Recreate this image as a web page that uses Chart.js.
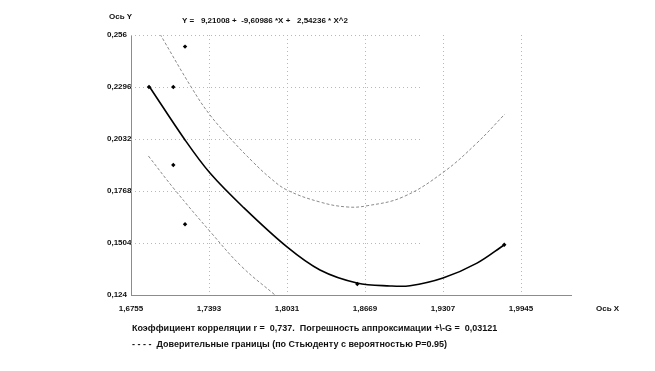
<!DOCTYPE html>
<html>
<head>
<meta charset="utf-8">
<script src="https://cdn.jsdelivr.net/npm/chart.js@4/dist/chart.umd.min.js"></script>
<style>
  html, body { margin: 0; padding: 0; background: #fff; }
  #wrap { width: 655px; height: 371px; position: relative; }
</style>
</head>
<body>
<div id="wrap"><canvas id="grafico"></canvas></div>
<script>
// puntos experimentales
const puntosX = [1.6902, 1.7101, 1.7197, 1.7101, 1.7197, 1.8606, 1.9808];
const puntosY = [0.2296, 0.2296, 0.2501, 0.1900, 0.1599, 0.1296, 0.1495];

// curva de regresion
const curvaX = [1.6902, 1.7197, 1.7401, 1.7671, 1.8031, 1.8301, 1.8604, 1.8874, 1.9037, 1.9307, 1.9585, 1.9806];
const curvaY = [0.2301, 0.2027, 0.1859, 0.1687, 0.1484, 0.1367, 0.1301, 0.1286, 0.1287, 0.1326, 0.1402, 0.1494];

// limites de confianza
const superiorX = [1.6992, 1.7252, 1.7401, 1.7579, 1.7753, 1.7894, 1.8031, 1.8301, 1.8522, 1.8686, 1.8980, 1.9307, 1.9585, 1.9814];
const superiorY = [0.2565, 0.2291, 0.2154, 0.2027, 0.1915, 0.1834, 0.1773, 0.1712, 0.1687, 0.1693, 0.1738, 0.1862, 0.2012, 0.2159];
const inferiorX = [1.6897, 1.7115, 1.7415, 1.7661, 1.7933];
const inferiorY = [0.1946, 0.1773, 0.1553, 0.1384, 0.1240];

// ticks
const ticksX = [1.6755, 1.7393, 1.8031, 1.8669, 1.9307, 1.9945];
const etiquetasX = ["1,6755", "1,7393", "1,8031", "1,8669", "1,9307", "1,9945"];
const ticksY = [0.124, 0.1504, 0.1768, 0.2032, 0.2296, 0.256];
const etiquetasY = ["0,124", "0,1504", "0,1768", "0,2032", "0,2296", "0,256"];

// textos
const tituloY = "Ось Y";
const tituloX = "Ось X";
const formula = "Y =   9,21008 +  -9,60986 *X +   2,54236 * X^2";
const textoCorrelacion = "Коэффициент корреляции r =  0,737.  Погрешность аппроксимации +\\-G =  0,03121";
const textoLimites = "- - - -  Доверительные границы (по Стьюденту с вероятностью P=0.95)";

const fuente = '"Liberation Sans", Arial, sans-serif';
const juntar = (xs, ys) => xs.map((x, i) => ({ x: x, y: ys[i] }));

// grilla punteada y textos sueltos
const extras = {
  id: 'extras',
  beforeDatasetsDraw(chart) {
    const { ctx, chartArea } = chart;
    const sx = chart.scales.x, sy = chart.scales.y;
    ctx.save();
    ctx.strokeStyle = '#b8b8b8';
    ctx.lineWidth = 1;
    ctx.setLineDash([1, 3]);
    ticksX.slice(1).forEach((v) => {
      const px = Math.round(sx.getPixelForValue(v)) + 0.5;
      ctx.beginPath();
      ctx.moveTo(px, chartArea.top);
      ctx.lineTo(px, chartArea.bottom);
      ctx.stroke();
    });
    const finH = chartArea.left + (chartArea.right - chartArea.left) * 0.66;
    ticksY.slice(1).forEach((v) => {
      const py = Math.round(sy.getPixelForValue(v)) + 0.5;
      ctx.beginPath();
      ctx.moveTo(chartArea.left, py);
      ctx.lineTo(finH, py);
      ctx.stroke();
    });
    ctx.restore();
  },
  afterDraw(chart) {
    const ctx = chart.ctx;
    ctx.save();
    ctx.fillStyle = '#111';
    ctx.textBaseline = 'middle';
    ctx.textAlign = 'left';
    ctx.font = 'bold 8px ' + fuente;
    ctx.fillText(tituloY, 109, 17);
    ctx.fillText(formula, 182, 21);
    ctx.fillText(tituloX, 596, 309);
    ctx.font = 'bold 9px ' + fuente;
    ctx.fillText(textoCorrelacion, 132, 329);
    ctx.fillText(textoLimites, 132, 345);
    ctx.restore();
  }
};

const config = {
  type: 'scatter',
  data: {
    datasets: [
      {
        label: 'puntos',
        data: juntar(puntosX, puntosY),
        pointStyle: 'rectRot',
        pointRadius: 2.2,
        backgroundColor: '#000',
        borderColor: '#000',
        borderWidth: 0,
        order: 0
      },
      {
        label: 'curva',
        data: juntar(curvaX, curvaY),
        showLine: true,
        borderColor: '#000',
        borderWidth: 1.6,
        pointRadius: 0,
        tension: 0.35,
        order: 1
      },
      {
        label: 'superior',
        data: juntar(superiorX, superiorY),
        showLine: true,
        borderColor: '#8a8a8a',
        borderWidth: 1,
        borderDash: [3, 2],
        pointRadius: 0,
        tension: 0.4,
        order: 2
      },
      {
        label: 'inferior',
        data: juntar(inferiorX, inferiorY),
        showLine: true,
        borderColor: '#8a8a8a',
        borderWidth: 1,
        borderDash: [3, 2],
        pointRadius: 0,
        tension: 0.4,
        order: 2
      }
    ]
  },
  options: {
    responsive: false,
    animation: false,
    events: [],
    layout: { padding: { left: 107, right: 84, top: 35, bottom: 0 } },
    plugins: { legend: { display: false }, tooltip: { enabled: false } },
    scales: {
      x: {
        type: 'linear',
        min: 1.6755,
        max: 2.0354,
        afterBuildTicks: (s) => { s.ticks = ticksX.map((v) => ({ value: v })); },
        afterFit: (s) => { s.height = 76; },
        grid: { display: false, drawTicks: false },
        border: { display: true, color: '#8c8c8c', width: 1 },
        ticks: {
          padding: 9,
          maxRotation: 0,
          autoSkip: false,
          color: '#111',
          font: { family: fuente, size: 8, weight: 'bold' },
          callback: (v, i) => etiquetasX[i]
        }
      },
      y: {
        type: 'linear',
        min: 0.124,
        max: 0.256,
        afterBuildTicks: (s) => { s.ticks = ticksY.map((v) => ({ value: v })); },
        afterFit: (s) => { s.width = 24; },
        grid: { display: false, drawTicks: false },
        border: { display: true, color: '#8c8c8c', width: 1 },
        ticks: {
          crossAlign: 'far',
          padding: 0,
          autoSkip: false,
          color: '#111',
          font: { family: fuente, size: 8, weight: 'bold' },
          callback: (v, i) => etiquetasY[i]
        }
      }
    }
  },
  plugins: [extras]
};

const lienzo = document.getElementById('grafico');
lienzo.width = 655;
lienzo.height = 371;
new Chart(lienzo, config);
</script>
</body>
</html>
